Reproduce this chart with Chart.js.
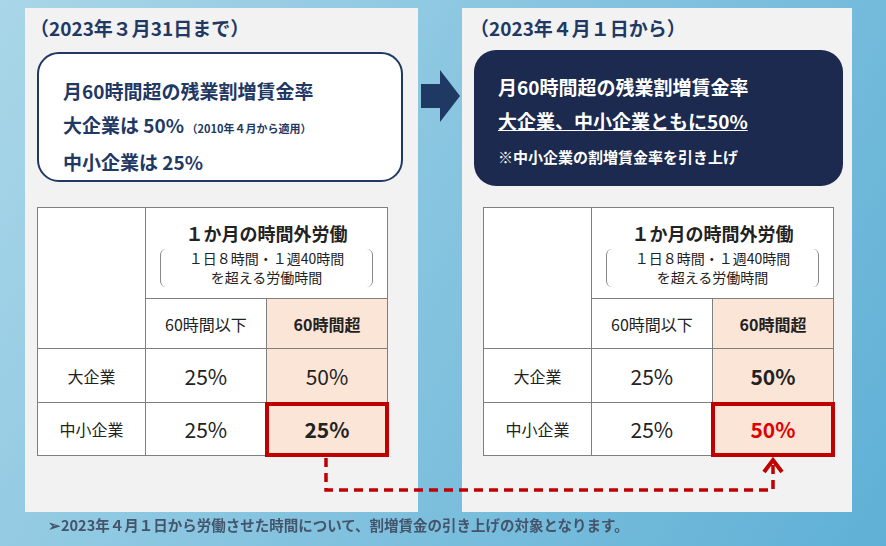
<!DOCTYPE html>
<html><head><meta charset="utf-8">
<script src="https://cdn.jsdelivr.net/npm/chart.js@4"></script>
<style>
body{margin:0;width:886px;height:546px;position:relative;overflow:hidden;font-family:"Noto Sans CJK JP","Noto Sans",sans-serif;}
#bg{position:absolute;left:0;top:0;}
.abs{position:absolute}
.panel{background:#f2f2f2}
.title{color:#1f3864;font-weight:bold;font-size:19px}
table{border-collapse:collapse;position:absolute;background:#fff}
td{border:1px solid #7f7f7f;text-align:center;color:#222;padding:0}
.pe{background:#fbe5d6}
</style></head><body>
<canvas id="bg" width="886" height="546"></canvas>
<div class="abs panel" style="left:25px;top:8px;width:393px;height:504px"></div>
<div class="abs panel" style="left:462px;top:8px;width:390px;height:504px"></div>
<div class="abs title" style="left:30px;top:14px">（2023年３月31日まで）</div>
<div class="abs title" style="left:470px;top:14px">（2023年４月１日から）</div>
<div class="abs" style="left:37px;top:52px;width:366px;height:130px;border:2px solid #1f3864;border-radius:22px;background:#fff;color:#1f3864;font-weight:bold;font-size:19px;line-height:34px;padding:20px 0 0 24px;box-sizing:border-box">
月60時間超の残業割増賃金率<br>大企業は 50%<span style="font-size:11px"> （2010年４月から適用）</span><br>中小企業は 25%</div>
<div class="abs" style="left:474px;top:50px;width:369px;height:136px;border-radius:22px;background:#1b2a4e;color:#fff;font-weight:bold;font-size:19px;line-height:34px;padding:20px 0 0 24px;box-sizing:border-box">
月60時間超の残業割増賃金率<br><u>大企業、中小企業ともに50%</u><br><span style="font-size:15px">※中小企業の割増賃金率を引き上げ</span></div>
<svg class="abs" style="left:0;top:0" width="886" height="546">
<polygon points="421,84 440,84 440,70 460,96 440,122 440,108 421,108" fill="#1f3864"/>
<polyline points="326,458 326,490 773,490 773,463" fill="none" stroke="#c00000" stroke-width="3.5" stroke-dasharray="9,6"/>
<polyline points="764,472 773,460 782,472" fill="none" stroke="#c00000" stroke-width="4"/>
</svg>
<div id="t1"></div><div id="t2"></div>
<div class="abs" style="left:48px;top:514px;color:#44546a;font-weight:bold;font-size:14.5px">➢2023年４月１日から労働させた時間について、割増賃金の引き上げの対象となります。</div>
<script>
const companies=["大企業","中小企業"];
const columns=["60時間以下","60時間超"];
const ratesBefore=[[25,50],[25,25]];
const ratesAfter=[[25,50],[25,50]];
function table(id,left,rates,after){
 let h=`<table style="left:${left}px;top:207px;width:351px;height:248px">
 <tr style="height:91px"><td rowspan="2" style="width:108px"></td><td colspan="2"><div style="font-weight:bold;font-size:18px">１か月の時間外労働</div>
 <div style="font-size:14px;line-height:19px;margin:3px 14px 0;border-left:1px solid #888;border-right:1px solid #888;border-radius:6px">１日８時間・１週40時間<br>を超える労働時間</div></td></tr>
 <tr style="height:50px"><td style="font-size:16px">${columns[0]}</td><td class="pe" style="font-size:16px;font-weight:bold">${columns[1]}</td></tr>`;
 rates.forEach((r,i)=>{
  const last=i===1;
  h+=`<tr style="height:${last?53:54}px"><td style="font-size:16px">${companies[i]}</td><td style="font-size:21px;width:121px">${r[0]}%</td>
  <td class="pe" style="font-size:21px;width:121px;${last?'outline:4px solid #c00000;outline-offset:-3px;font-weight:bold;':''}${after?'font-weight:bold;':''}${after&&last?'color:#e00000;':''}">${r[1]}%</td></tr>`;
 });
 document.getElementById(id).innerHTML=h+"</table>";
}
table("t1",37,ratesBefore,false);table("t2",483,ratesAfter,true);
new Chart(document.getElementById('bg'),{type:'bar',data:{labels:[],datasets:[]},
 options:{responsive:false,animation:false,plugins:{legend:{display:false}},scales:{x:{display:false},y:{display:false}}},
 plugins:[{id:'bgfill',beforeDraw(c){const g=c.ctx.createLinearGradient(0,0,886,546);g.addColorStop(0,'#a9d6e8');g.addColorStop(1,'#5fb0d6');c.ctx.fillStyle=g;c.ctx.fillRect(0,0,886,546);}}]});
</script>
</body></html>
